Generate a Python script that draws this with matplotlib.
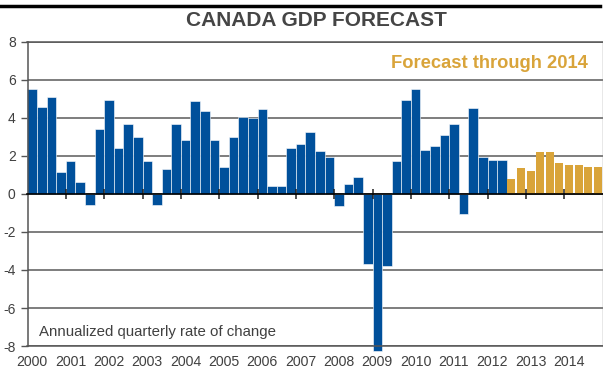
import numpy as np
import matplotlib.pyplot as plt
from matplotlib.lines import Line2D

plt.rcParams['font.family'] = ['Liberation Sans', 'DejaVu Sans']

# Annualized quarterly GDP growth, 2000Q1 - 2012Q2 (actual)
actual = [5.5, 4.6, 5.1, 1.15,
          1.73, 0.62, -0.6, 3.43,
          4.95, 2.44, 3.67, 3.0,
          1.73, -0.6, 1.33, 3.67,
          2.86, 4.88, 4.38, 2.83,
          1.4, 3.0, 4.07, 4.02,
          4.45, 0.44, 0.44, 2.42,
          2.65, 3.27, 2.24, 1.94,
          -0.62, 0.53, 0.88, -3.69,
          -8.25, -3.79, 1.73, 4.95,
          5.55, 2.33, 2.5, 3.09,
          3.67, -1.04, 4.52, 1.94,
          1.8, 1.8]
# 2012Q3 - 2014Q4 (forecast)
forecast = [0.8, 1.38, 1.2, 2.2, 2.2, 1.63, 1.55, 1.55, 1.41, 1.41]

years = ['2000', '2001', '2002', '2003', '2004', '2005', '2006', '2007',
         '2008', '2009', '2010', '2011', '2012', '2013', '2014']
y_ticks = [-8, -6, -4, -2, 0, 2, 4, 6, 8]

blue = '#00509B'
gold = '#D9A43A'
dark = '#404040'

fig = plt.figure(figsize=(6.03, 3.72), dpi=100)
ax = fig.add_axes([27.5 / 603, 1 - 346 / 372, 575 / 603, (346 - 42) / 372])

n_act = len(actual)
n_all = n_act + len(forecast)
x_act = np.arange(n_act)
x_fc = np.arange(n_act, n_all)

ax.bar(x_act, actual, width=1.0, color=blue, edgecolor='white',
       linewidth=0.4, zorder=2, clip_on=False)
ax.bar(x_fc, forecast, width=0.84, color=gold, zorder=2)

ax.set_xlim(-0.5, n_all - 0.5)
ax.set_ylim(-8, 8)

# y axis
ax.set_yticks(y_ticks)
ax.set_yticklabels([str(v) for v in y_ticks])
ax.yaxis.grid(True, color='#5a5a5a', linewidth=1.1)
ax.set_axisbelow(True)
ax.tick_params(axis='y', direction='out', length=5, width=1, color='#555555',
               labelsize=10, labelcolor=dark, pad=3.5)

# year labels under first quarter of each year
ax.set_xticks(np.arange(0, n_all, 4))
ax.set_xticklabels(years)
ax.tick_params(axis='x', length=0, labelsize=10.2, labelcolor=dark, pad=6.5)

for side in ['left', 'bottom', 'top']:
    ax.spines[side].set_color('#555555')
    ax.spines[side].set_linewidth(1.1)
ax.spines['right'].set_color('#8a8a8a')
ax.spines['right'].set_linewidth(1.0)

# zero line with year-boundary ticks
zero = ax.secondary_xaxis(0.5)
zero.set_xticks(np.arange(4, n_all, 4) - 0.5)
zero.set_xticklabels([])
zero.tick_params(axis='x', which='both', direction='inout', length=7,
                 width=1.1, color='#222222')
for side in zero.spines:
    zero.spines[side].set_color('black')
    zero.spines[side].set_linewidth(1.2)
zero.set_zorder(3)

# heading
fig.add_artist(Line2D([0, 0.995], [1 - 6 / 372, 1 - 6 / 372], color='black',
                      linewidth=2.5, transform=fig.transFigure))
fig.text(316 / 603, 1 - 20 / 372, 'CANADA GDP FORECAST', ha='center',
         va='center', fontsize=15, fontweight='bold', color='#454545')

fig.text(489 / 603, 1 - 63 / 372, 'Forecast through 2014', ha='center',
         va='center', fontsize=13.2, fontweight='bold', color=gold)
fig.text(39 / 603, 1 - 332 / 372, 'Annualized quarterly rate of change',
         ha='left', va='center', fontsize=10.8, color=dark)

fig.savefig('out.png', dpi=100)
